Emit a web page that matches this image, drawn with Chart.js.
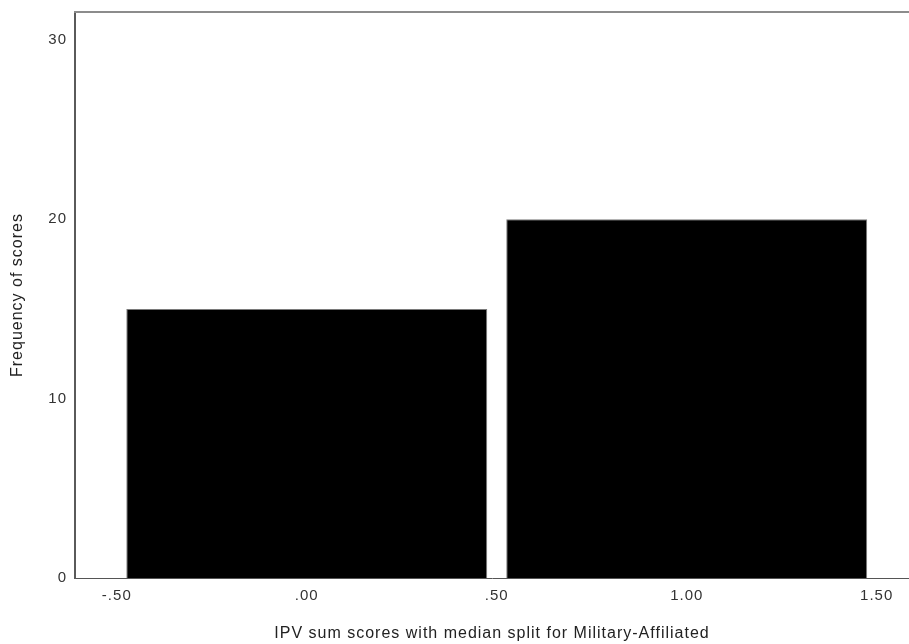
<!DOCTYPE html>
<html>
<head>
<meta charset="utf-8">
<title>IPV sum scores histogram</title>
<script src="https://cdn.jsdelivr.net/npm/chart.js@4.4.1/dist/chart.umd.min.js"></script>
<style>
    html, body { margin: 0; padding: 0; background: #fff; }
    #wrap { width: 909px; height: 644px; }
</style>
</head>
<body>
<div id="wrap"><canvas id="histograma" width="909" height="644"></canvas></div>
<script>
// ========================= DADOS =========================
const binCenters = [0, 1];
const frequencies = [15, 20];
const xTickValues = [-0.5, 0, 0.5, 1, 1.5];
const xTickLabels = ['-.50', '.00', '.50', '1.00', '1.50'];
const yTickValues = [0, 10, 20, 30];

// ========================= MOLDURA SUPERIOR =========================
// linha cinza no topo da área do gráfico (estilo SPSS)
const topFrame = {
    id: 'topFrame',
    afterDraw(chart) {
        const area = chart.chartArea;
        const ctx = chart.ctx;
        ctx.save();
        ctx.strokeStyle = '#8c8c8c';
        ctx.lineWidth = 2;
        ctx.beginPath();
        ctx.moveTo(area.left - 1, area.top);
        ctx.lineTo(area.right, area.top);
        ctx.stroke();
        ctx.restore();
    }
};

const spacing = {
    id: 'spacing',
    beforeDraw(chart) {
        chart.ctx.letterSpacing = '1px';
    }
};

// ========================= GRÁFICO =========================
document.addEventListener('DOMContentLoaded', function() {
    const ctx = document.getElementById('histograma');

    new Chart(ctx, {
        type: 'bar',
        data: {
            datasets: [{
                data: binCenters.map((c, i) => ({ x: c, y: frequencies[i] })),
                backgroundColor: '#000000',
                borderColor: '#7a7a7a',
                borderWidth: 1,
                // o ruler usa o espaçamento dos ticks (0.5), então 1.9 = 95% de uma classe
                barPercentage: 1.9,
                categoryPercentage: 1.0
            }]
        },
        options: {
            responsive: false,
            animation: false,
            layout: { padding: { top: 12, right: 0, bottom: 0, left: 0 } },
            plugins: {
                legend: { display: false },
                tooltip: { enabled: false }
            },
            scales: {
                x: {
                    type: 'linear',
                    min: -0.61,
                    max: 1.585,
                    offset: false,
                    afterBuildTicks: function(scale) {
                        scale.ticks = xTickValues.map(v => ({ value: v }));
                    },
                    afterFit: function(scale) {
                        scale.height = 66;
                        scale.paddingLeft = 0;
                        scale.paddingRight = 0;
                    },
                    grid: { display: false, drawTicks: false },
                    border: { display: true, color: '#555555', width: 1 },
                    ticks: {
                        autoSkip: false,
                        maxRotation: 0,
                        padding: 9,
                        color: '#333333',
                        font: { family: 'Arial, "Liberation Sans", sans-serif', size: 15 },
                        callback: function(value) {
                            const idx = xTickValues.indexOf(value);
                            return idx >= 0 ? xTickLabels[idx] : '';
                        }
                    },
                    title: {
                        display: true,
                        text: 'IPV sum scores with median split for Military-Affiliated',
                        color: '#222222',
                        font: { family: 'Arial, "Liberation Sans", sans-serif', size: 16 },
                        padding: { top: 0, bottom: 1 }
                    }
                },
                y: {
                    min: 0,
                    max: 31.55,
                    afterBuildTicks: function(scale) {
                        scale.ticks = yTickValues.map(v => ({ value: v }));
                    },
                    afterFit: function(scale) {
                        scale.width = 75;
                        scale.paddingTop = 0;
                        scale.paddingBottom = 0;
                    },
                    grid: { display: false, drawTicks: false },
                    border: { display: true, color: '#5a5a5a', width: 2 },
                    ticks: {
                        padding: 8,
                        color: '#333333',
                        font: { family: 'Arial, "Liberation Sans", sans-serif', size: 15 }
                    },
                    title: {
                        display: true,
                        text: 'Frequency of scores',
                        color: '#222222',
                        font: { family: 'Arial, "Liberation Sans", sans-serif', size: 16 },
                        padding: { top: 8, bottom: 0 }
                    }
                }
            }
        },
        plugins: [spacing, topFrame]
    });
});
</script>
</body>
</html>
